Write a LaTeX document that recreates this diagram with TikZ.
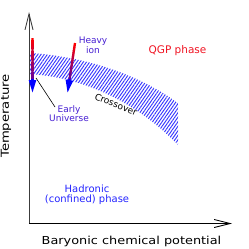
\documentclass[tikz,border=0pt]{standalone}
\usepackage{fontspec}
\usepackage{graphicx}
\setmainfont{DejaVu Sans}
\usetikzlibrary{arrows.meta,patterns.meta,calc}
\definecolor{qgpred}{RGB}{240,20,35}
\definecolor{hadblue}{RGB}{35,35,255}
\definecolor{labblue}{RGB}{70,30,210}
\definecolor{hatchblue}{RGB}{55,55,255}
\definecolor{axgray}{RGB}{60,60,60}
\tikzset{
  axisline/.style={line width=0.9pt,-{Straight Barb[length=16pt,width=8pt]}},
  lbl/.style={inner sep=0pt,align=center},
  gshaft/.style={line width=2.3pt},
  ghead/.style={blue,line width=2.3pt,-{Triangle[length=13pt,width=7pt]}},
}
\begin{document}
\begin{tikzpicture}[x=1pt,y=-1pt]
\useasboundingbox (0,0) rectangle (249,249);
% crossover band
\fill[pattern={Lines[angle=55,distance=2.6pt,line width=0.95pt]},pattern color=hatchblue]
  (29.5,53) .. controls (80,56) and (135,72) .. (178,103) -- (178,145)
  .. controls (135,100) and (80,77) .. (29.5,74) -- cycle;
% axes
\coordinate (O) at (29,223.5);
\coordinate (ytop) at (29,12);
\coordinate (xend) at (232,223.5);
\draw[axisline,color=axgray] (O) -- (ytop);
\draw[axisline] (O) -- (xend);
% arrows
\coordinate (eutop) at (32.5,38);
\coordinate (eutip) at (32.5,93);
\coordinate (hitop) at (75,43);
\coordinate (hitip) at (67.5,93);
\coordinate (eubase) at ($(eutip)!12pt!(eutop)$);
\coordinate (hibase) at ($(hitip)!12pt!(hitop)$);
\foreach \i in {0,...,19}{
  \pgfmathsetmacro\ta{\i/20}
  \pgfmathsetmacro\tb{(\i+1.3)/20}
  \pgfmathsetmacro\cc{100-\i*3.3}
  \draw[gshaft,color=red!\cc!blue] ($(eutop)!\ta!(eubase)$) -- ($(eutop)!\tb!(eubase)$);
  \draw[gshaft,color=red!\cc!blue] ($(hitop)!\ta!(hibase)$) -- ($(hitop)!\tb!(hibase)$);
}
\draw[ghead] ($(eutip)!14pt!(eutop)$) -- (eutip);
\draw[ghead] ($(hitip)!14pt!(hitop)$) -- (hitip);
% labels
\node[lbl,text=qgpred,font=\fontsize{10.5}{12}\selectfont] (qgp) at (177.5,51) {QGP phase};
\node[lbl,text=labblue,font=\fontsize{9}{8.5}\selectfont] (heavy) at (93,45) {Heavy\\ion};
\node[lbl,text=labblue,font=\fontsize{9}{9}\selectfont] (early) at (69,114) {Early\\Universe};
\node[lbl,font=\fontsize{9}{10}\selectfont,rotate=-22] (cross) at (116,104.5) {Crossover};
\node[lbl,text=hadblue,font=\fontsize{10}{10}\selectfont] (had) at (87,195) {Hadronic\\(confined) phase};
\node[lbl,font=\fontsize{11}{12}\selectfont,rotate=90] (temp) at (6,116) {\scalebox{1.2}[1]{Temperature}};
\node[lbl,font=\fontsize{11}{12}\selectfont] (bary) at (131.5,241) {\scalebox{1.17}[1]{Baryonic chemical potential}};
% leader line
\coordinate (leadstart) at (36,78);
\coordinate (leadend) at (55,107);
\draw[line width=0.6pt] (leadstart) -- (leadend);
\end{tikzpicture}
\end{document}
